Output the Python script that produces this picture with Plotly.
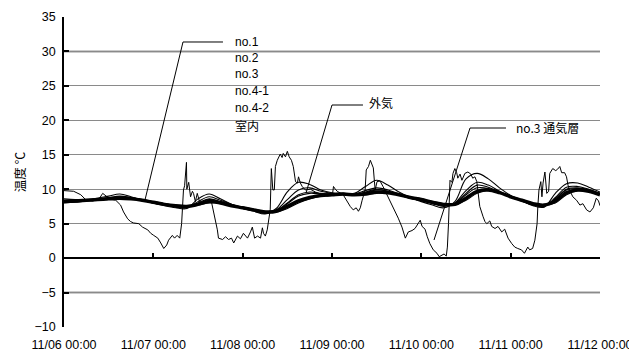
import pandas as pd
import plotly.graph_objects as go

# ---------------- data ----------------
START = "2010-11-06 00:00"
series_step_hours = 3  # sampling interval of the smooth series

indoor = [8.2,8.3,8.4,8.5,8.6,8.7,8.6,8.4,8.1,7.8,7.6,7.5,7.8,8.2,8.0,7.6,7.3,
          7.0,6.7,6.8,7.5,8.3,8.8,9.1,9.2,9.3,9.2,9.3,9.6,9.5,9.2,8.8,8.5,
          8.1,7.8,7.8,8.7,9.7,9.9,9.5,8.9,8.4,7.9,7.7,8.3,9.5,9.9,9.7,9.2]
no1 = [8.0,8.1,8.3,8.4,8.5,8.6,8.6,8.4,8.2,7.9,7.7,7.6,7.7,8.0,8.0,7.7,7.4,
       7.1,6.8,6.7,7.2,8.0,8.6,9.0,9.1,9.2,9.1,9.2,9.4,9.5,9.3,8.9,8.6,
       8.2,7.9,7.7,8.4,9.4,9.8,9.6,9.0,8.5,8.0,7.7,8.0,9.2,9.8,9.8,9.4]
no2 = [8.4,8.4,8.5,8.6,8.7,8.9,8.8,8.5,8.2,7.9,7.6,7.4,7.9,8.5,8.2,7.7,7.3,
       7.0,6.6,6.9,7.9,9.0,9.4,9.3,9.3,9.3,9.2,9.5,9.9,9.7,9.2,8.7,8.4,
       8.0,7.7,7.9,9.2,10.2,10.1,9.5,8.8,8.3,7.8,7.6,8.6,9.9,10.1,9.9,9.3]
no3 = [8.6,8.5,8.5,8.7,9.0,9.3,8.9,8.4,8.0,7.6,7.3,7.2,8.6,9.3,8.6,7.8,7.2,
       6.8,6.4,7.2,9.6,11.0,10.7,9.9,9.5,9.4,9.4,10.4,11.3,10.6,9.6,8.8,8.2,
       7.7,7.3,8.2,11.5,12.3,11.5,10.2,9.1,8.3,7.6,7.4,9.4,10.8,10.9,10.3,9.6]
no4_1 = [8.3,8.3,8.4,8.6,8.8,9.0,8.8,8.5,8.1,7.7,7.4,7.3,8.2,8.9,8.4,7.8,7.3,
         6.9,6.5,7.0,8.5,9.9,10.2,9.7,9.4,9.4,9.3,9.8,10.2,9.9,9.3,8.7,8.3,
         7.9,7.5,8.0,9.8,11.0,10.6,9.7,8.9,8.3,7.7,7.5,8.8,10.3,10.4,10.0,9.4]
no4_2 = [8.1,8.2,8.4,8.5,8.6,8.8,8.7,8.4,8.0,7.7,7.5,7.4,8.0,8.6,8.2,7.7,7.2,
         6.9,6.6,6.9,8.0,9.2,9.6,9.4,9.3,9.3,9.2,9.6,10.0,9.7,9.2,8.7,8.4,
         8.0,7.6,7.9,9.4,10.6,10.3,9.6,8.9,8.3,7.8,7.6,8.6,10.0,10.2,9.9,9.3]

# outdoor air (外気): hours since start, temperature
out_hours = [0,1.8,2.6,4.5,5.8,7.7,9.3,10.4,11.2,12.5,13.9,15.2,16.0,17.1,17.9,18.7,
             20.1,21.1,22.5,23.3,24.1,25.2,26.0,26.8,27.6,28.1,29.1,29.7,30.4,31.1,
             31.6,31.9,32.1,32.4,32.9,33.0,33.5,34.0,34.5,34.8,35.3,35.8,36.4,37.4,
             38.8,39.6,40.1,40.7,41.2,41.5,42.6,43.4,44.2,45.0,45.6,46.6,47.4,48.2,
             49.3,50.1,50.6,51.2,52.0,52.8,53.3,53.6,54.1,54.6,54.9,55.4,55.7,56.1,
             56.5,56.8,57.3,58.1,58.6,58.9,59.5,60.0,60.5,61.1,61.6,61.9,62.2,62.7,
             63.0,63.5,64.0,64.8,66.2,67.5,68.8,70.7,72.1,72.4,72.9,73.4,75.0,75.5,
             76.1,76.9,77.7,78.5,79.1,79.6,80.1,80.4,80.9,81.2,81.8,82.3,82.7,83.1,
             83.4,83.6,84.1,84.9,85.7,87.1,88.2,89.0,89.8,90.8,91.7,92.5,93.5,94.3,
             94.9,95.7,96.2,97.0,97.6,98.3,99.2,100.2,100.8,101.6,102.1,102.7,103.0,
             103.3,103.5,103.7,104.2,104.5,105.0,105.5,105.8,106.4,106.9,107.2,107.7,
             108.5,109.3,109.8,110.4,110.9,111.2,111.7,112.6,113.1,113.6,114.4,114.9,
             115.8,116.6,117.6,118.4,119.3,120.3,121.1,121.9,122.9,123.7,124.6,125.1,
             125.9,126.5,127.1,127.3,127.6,128.1,128.4,128.7,129.2,129.7,130.2,130.5,
             131.0,131.3,132.1,132.6,133.2,133.7,134.5,135.0,135.4,135.8,136.7,137.7,
             138.6,139.4,140.4,141.3,142.2,143.0,143.6,144.0]
out_temp = [9.8,9.8,9.7,9.2,8.5,8.3,8.5,9.4,9.0,8.5,8.4,7.7,6.7,5.7,5.3,5.1,
            5.0,4.5,4.1,3.6,3.3,2.9,2.2,1.4,1.9,2.6,3.3,2.9,3.3,2.9,
            5.0,7.5,9.9,10.5,13.9,10.0,11.0,8.9,9.7,9.4,8.2,9.4,8.2,8.0,
            8.2,8.2,7.0,5.5,4.1,2.9,2.7,3.1,2.7,2.9,2.2,3.2,2.8,3.6,
            2.9,3.8,4.5,2.9,3.2,2.9,4.4,3.6,3.2,4.1,5.5,7.0,13.0,9.9,
            9.9,13.3,14.2,15.1,14.6,15.2,14.7,15.5,14.7,14.2,13.3,12.3,11.1,10.9,
            11.8,10.9,10.4,9.9,10.0,9.6,9.4,9.0,9.1,10.4,10.0,9.7,9.2,8.7,
            8.2,7.5,7.0,7.3,6.8,7.3,8.4,8.9,9.9,12.8,13.3,14.2,13.5,13.1,
            11.1,9.9,11.1,11.2,10.4,8.9,7.5,6.7,5.8,4.5,2.9,3.8,4.0,4.3,
            4.8,5.5,4.6,4.2,3.1,2.1,1.2,0.7,0.2,0.4,0.6,0.3,1.6,
            5.0,8.0,11.3,11.0,12.3,13.0,12.4,11.6,12.2,11.3,11.8,12.3,
            12.5,12.2,11.6,11.8,11.1,9.9,7.5,6.0,5.3,5.0,5.4,4.6,
            4.3,4.6,3.8,4.2,2.9,2.1,1.6,1.4,1.2,0.7,1.6,1.2,
            1.4,2.6,5.0,7.5,9.9,11.1,8.9,10.9,12.5,9.4,9.7,12.3,
            12.8,13.0,12.7,12.9,13.3,12.4,12.4,11.8,10.6,9.9,8.9,8.4,
            7.7,7.9,7.0,6.7,7.3,8.7,8.3,7.6]

y_tick_values = [-10, -5, 0, 5, 10, 15, 20, 25, 30, 35]
dark_grid_values = [30, -5]
legend_labels = ["no.1", "no.2", "no.3", "no.4-1", "no.4-2", "室内"]
y_title = "温度 ℃"

# ---------------- figure ----------------
OFF = 8                      # page body margin in the browser
W, H = 637 - OFF, 352 - OFF  # figure size so the page fits the window
L, R, T, B = 56, 37, 9, 25
FONT = "Liberation Sans, Arial, Noto Sans CJK JP"
CJK = "Noto Sans CJK JP, Liberation Sans"

t0 = pd.Timestamp(START)
t_smooth = [t0 + pd.Timedelta(hours=series_step_hours * i) for i in range(len(indoor))]
t_out = [t0 + pd.to_timedelta(h, unit="h") for h in out_hours]
t_end = t0 + pd.Timedelta(days=6)

fig = go.Figure()
for name, vals in [("no.4-2", no4_2), ("no.4-1", no4_1), ("no.3", no3),
                   ("no.2", no2), ("no.1", no1)]:
    fig.add_trace(go.Scatter(x=t_smooth, y=vals, mode="lines", name=name,
                             line=dict(color="black", width=1.1, shape="spline")))
fig.add_trace(go.Scatter(x=t_smooth, y=indoor, mode="lines", name="室内",
                         line=dict(color="black", width=3.5, shape="spline")))
fig.add_trace(go.Scatter(x=t_out, y=out_temp, mode="lines", name="外気",
                         line=dict(color="black", width=1)))
# invisible trace to carry the zero-crossing axis
fig.add_trace(go.Scatter(x=[t0, t_end], y=[None, None], xaxis="x2", showlegend=False,
                         hoverinfo="skip"))

ymin, ymax = -10, 35
fig.update_layout(
    width=W, height=H, margin=dict(l=L, r=R, t=T, b=B, autoexpand=False),
    paper_bgcolor="white", plot_bgcolor="white", showlegend=False,
    font=dict(family=FONT, size=12, color="black"),
    xaxis=dict(range=[t0, t_end], tickformat="%m/%d %H:%M", dtick=86400000, tick0=t0,
               showgrid=False, showline=False, ticks="", zeroline=False,
               automargin=False, tickfont=dict(size=12.5), ticklabelstandoff=8),
    xaxis2=dict(range=[t0, t_end], matches="x", overlaying="x", anchor="free",
                position=(0 - ymin) / (ymax - ymin), side="bottom",
                showline=True, linecolor="black", linewidth=1.5,
                ticks="inside", ticklen=4, tickwidth=1.5, tickcolor="black",
                dtick=86400000, tick0=t0, showticklabels=False, showgrid=False,
                zeroline=False, automargin=False),
    yaxis=dict(range=[ymin, ymax], tickvals=y_tick_values, showgrid=True,
               gridcolor="#8a8a8a", gridwidth=1, zeroline=False,
               showline=True, linecolor="black", linewidth=1.5,
               ticks="inside", ticklen=5, tickwidth=1.5, tickcolor="black",
               tickfont=dict(size=12.5), automargin=False, ticklabelstandoff=4,
               title=dict(text=y_title, font=dict(family=CJK, size=12.5), standoff=6)),
)

for v in dark_grid_values:
    fig.add_shape(type="line", xref="paper", x0=0, x1=1, yref="y", y0=v, y1=v,
                  line=dict(color="#303030", width=1.5), layer="below")

# page-pixel -> paper helpers for annotations / leader lines
PW, PH = W - L - R, H - T - B
def px(x):
    return (x - OFF - L) / PW
def py(y):
    return (H - B - (y - OFF)) / PH

label_y = [42, 58, 74, 91, 108, 126]
for txt, yy in zip(legend_labels, label_y):
    fig.add_annotation(text=txt, xref="paper", yref="paper", x=px(233), y=py(yy),
                       xanchor="left", yanchor="middle", showarrow=False,
                       font=dict(family=CJK if txt == "室内" else FONT, size=12))
fig.add_annotation(text="外気", xref="paper", yref="paper", x=px(367), y=py(102),
                   xanchor="left", yanchor="middle", showarrow=False,
                   font=dict(family=CJK, size=12))
fig.add_annotation(text="no.3 通気層", xref="paper", yref="paper", x=px(514), y=py(127),
                   xanchor="left", yanchor="middle", showarrow=False,
                   font=dict(family=CJK, size=12))

leaders = [
    [(223, 42), (183, 42), (145, 200)],
    [(363, 105), (332, 105), (306, 193)],
    [(506, 128), (470, 128), (434, 240)],
]
for pts in leaders:
    path = "M " + " L ".join(f"{px(a):.4f},{py(b):.4f}" for a, b in pts)
    fig.add_shape(type="path", xref="paper", yref="paper", path=path,
                  line=dict(color="black", width=1))

fig.write_html("out.html")
